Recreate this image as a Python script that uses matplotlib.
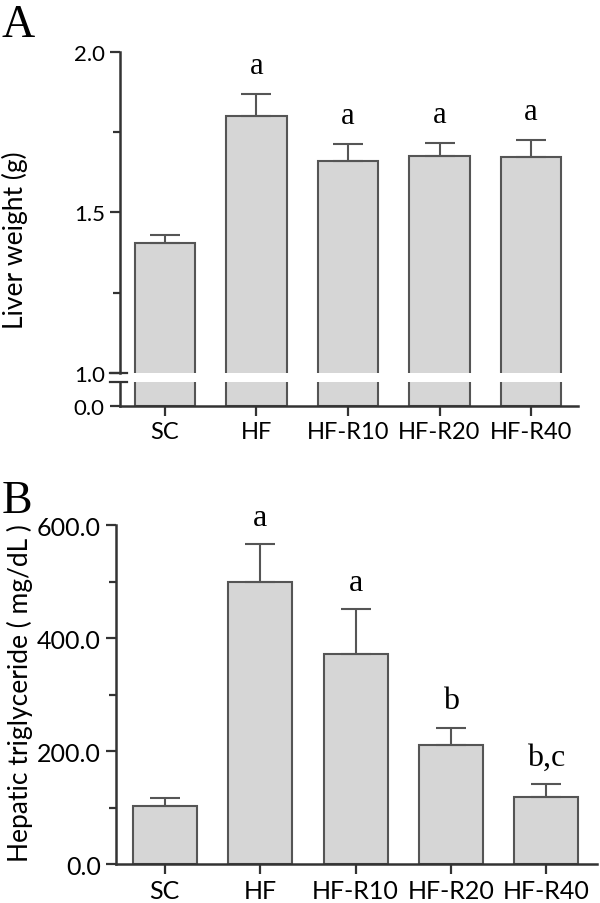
import matplotlib
matplotlib.use("Agg")
import matplotlib.pyplot as plt
import numpy as np

plt.rcParams['font.family'] = ['Lato', 'DejaVu Sans']
serif = ['Liberation Serif', 'DejaVu Serif']

groups = ['SC', 'HF', 'HF-R10', 'HF-R20', 'HF-R40']

liver_weight = [1.405, 1.80, 1.661, 1.677, 1.672]
liver_err = [0.025, 0.07, 0.053, 0.04, 0.054]
liver_sig = ['', 'a', 'a', 'a', 'a']

hep_tg = [103, 500, 372, 211, 119]
hep_err = [14, 66, 79, 30, 22]
hep_sig = ['', 'a', 'a', 'b', 'b,c']

fill = '#d6d6d6'
edge = '#555555'
axc = '#333333'

fig = plt.figure(figsize=(6, 9.04), dpi=100)


def style(ax):
    for s in ['top', 'right']:
        ax.spines[s].set_visible(False)
    for s in ['left', 'bottom']:
        ax.spines[s].set_linewidth(1.8)
        ax.spines[s].set_color(axc)
    ax.tick_params(which='major', length=7.5, width=1.6, color=axc)
    ax.tick_params(which='minor', length=5, width=1.6, color=axc)


def draw_bars(ax, vals, errs, width):
    x = np.arange(len(vals))
    ax.bar(x, vals, width=width, color=fill, edgecolor=edge, linewidth=1.5,
           yerr=[np.zeros(len(errs)), errs], capsize=11,
           error_kw=dict(ecolor=edge, elinewidth=1.5, capthick=1.5))
    return x


# ---- panel A (broken axis) ----
axA = fig.add_axes([0.2, 0.5863, 0.763, 0.3551])
axA0 = fig.add_axes([0.2, 0.5498, 0.763, 0.0265])

x = draw_bars(axA, liver_weight, liver_err, 0.66)
draw_bars(axA0, liver_weight, liver_err, 0.66)

axA.set_ylim(1.0, 2.0)
axA.set_yticks([1.0, 1.5, 2.0])
axA.set_yticks([1.25, 1.75], minor=True)
axA.set_yticklabels(['1.0', '1.5', '2.0'], fontsize=16)
axA.set_xlim(-0.49, 4.51)
style(axA)
axA.spines['bottom'].set_visible(False)
axA.tick_params(axis='x', which='both', bottom=False, labelbottom=False)

axA0.set_ylim(0, 0.1)
axA0.set_yticks([0.0])
axA0.set_yticklabels(['0.0'], fontsize=16)
axA0.set_xlim(-0.49, 4.51)
style(axA0)
axA0.set_xticks(x)
axA0.set_xticklabels(groups, fontsize=17)

# break mark on lower segment
axA0.plot([-0.022, 0.015], [1, 1], transform=axA0.transAxes, color=axc,
          lw=1.6, clip_on=False)
axA.plot([-0.022, 0.015], [0, 0], transform=axA.transAxes, color=axc,
         lw=1.6, clip_on=False)

for xi, v, e, s in zip(x, liver_weight, liver_err, liver_sig):
    if s:
        axA.annotate(s, (xi, v + e), xytext=(0, 10), textcoords='offset points',
                     ha='center', va='bottom', fontsize=22, family=serif)

# ---- panel B ----
axB = fig.add_axes([0.1933, 0.0431, 0.8017, 0.375])
x = draw_bars(axB, hep_tg, hep_err, 0.67)
axB.set_ylim(0, 600)
axB.set_yticks([0, 200, 400, 600])
axB.set_yticks([100, 300, 500], minor=True)
axB.set_yticklabels(['0.0', '200.0', '400.0', '600.0'], fontsize=18)
axB.set_xlim(-0.51, 4.53)
axB.set_xticks(x)
axB.set_xticklabels(groups, fontsize=18)
style(axB)

for xi, v, e, s in zip(x, hep_tg, hep_err, hep_sig):
    axB.annotate(s, (xi, v + e), xytext=(0, 9), textcoords='offset points',
                 ha='center', va='bottom', fontsize=23, family=serif)

fig.text(0.025, 0.7345, 'Liver weight (g)', rotation=90, ha='center',
         va='center', fontsize=19)
fig.text(0.033, 0.2329, 'Hepatic triglyceride ( mg/dL )', rotation=90,
         ha='center', va='center', fontsize=19)

fig.text(0.003, 0.959, 'A', fontsize=33, va='baseline', family=serif)
fig.text(0.003, 0.4325, 'B', fontsize=33, va='baseline', family=serif)

fig.savefig('out.png', dpi=100)
